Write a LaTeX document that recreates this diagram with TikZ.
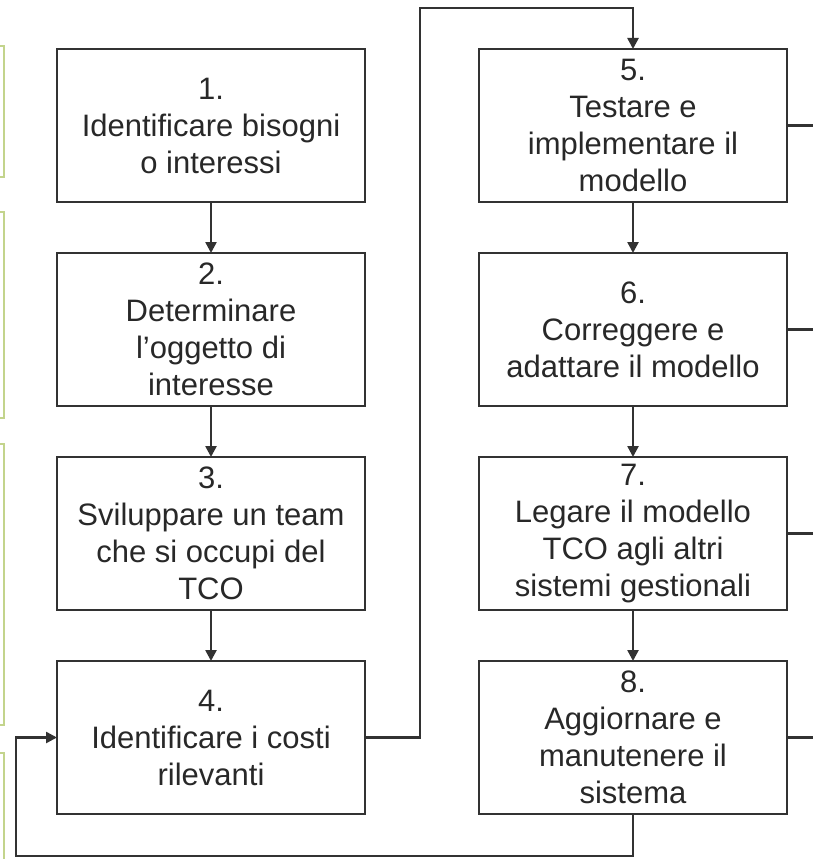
\documentclass[tikz,border=0pt]{standalone}
\usepackage{fontspec}
\setmainfont{Liberation Sans}
\usepackage{xcolor}
\usepackage{tikz}
\usetikzlibrary{positioning,arrows.meta}
\definecolor{LineGray}{RGB}{50,50,50}
\definecolor{TextGray}{RGB}{40,40,40}
\definecolor{FrameOlive}{RGB}{195,212,140}
\tikzset{
    box_step/.style={rectangle, draw=LineGray, line width=2.5pt, fill=white, minimum width=308pt, minimum height=153pt, inner sep=0pt, outer sep=0pt, align=center, text=TextGray, font=\fontsize{31}{37}\selectfont},
    flow/.style={draw=LineGray, line width=2.5pt, -{Triangle[length=11pt,width=11pt]}},
    stub/.style={draw=LineGray, line width=2.5pt}
}
\begin{document}
\begin{tikzpicture}[
        x=1pt, y=-1pt,
        % --- DISTANZE ---
        node distance=51pt and 114pt,
        frame_olive/.style={draw=FrameOlive, line width=1.4pt}
    ]
    \useasboundingbox (0,0) rectangle (813,859);

    % --- CORNICI TAGLIATE A SINISTRA ---
    \draw[frame_olive] (0,46) -| (4,177) -- (0,177);
    \draw[frame_olive] (0,212) -| (4,418) -- (0,418);
    \draw[frame_olive] (0,444) -| (4,725) -- (0,725);
    \draw[frame_olive] (0,753) -| (4,859);

    % --- PASSI ---
    \node[box_step] (box1) at (211,125.5) {1.\\Identificare bisogni\\o interessi};
    \node[box_step, below=of box1] (box2) {2.\\Determinare\\l’oggetto di\\interesse};
    \node[box_step, below=of box2] (box3) {3.\\Sviluppare un team\\che si occupi del\\TCO};
    \node[box_step, below=of box3] (box4) {4.\\Identificare i costi\\rilevanti};
    \node[box_step, right=of box1] (box5) {5.\\Testare e\\implementare il\\modello};
    \node[box_step, below=of box5] (box6) {6.\\Correggere e\\adattare il modello};
    \node[box_step, below=of box6] (box7) {7.\\Legare il modello\\TCO agli altri\\sistemi gestionali};
    \node[box_step, below=of box7] (box8) {8.\\Aggiornare e\\manutenere il\\sistema};

    % --- FRECCE ---
    \foreach \a/\b in {1/2, 2/3, 3/4, 5/6, 6/7, 7/8}
        \draw[flow] (box\a.south) -- (box\b.north);
    \coordinate (top_turn) at (420,8);
    \coordinate (bottom_turn) at (16,856);
    \draw[flow] (box4.east) -| (top_turn) -| (box5.north);
    \draw[flow] (box8.south) |- (bottom_turn) |- (box4.west);

    % --- LINEE VERSO DESTRA ---
    \coordinate (edge) at (813,0);
    \foreach \n in {5,...,8}
        \draw[stub] (box\n.east) -- (box\n.east -| edge);

\end{tikzpicture}
\end{document}
